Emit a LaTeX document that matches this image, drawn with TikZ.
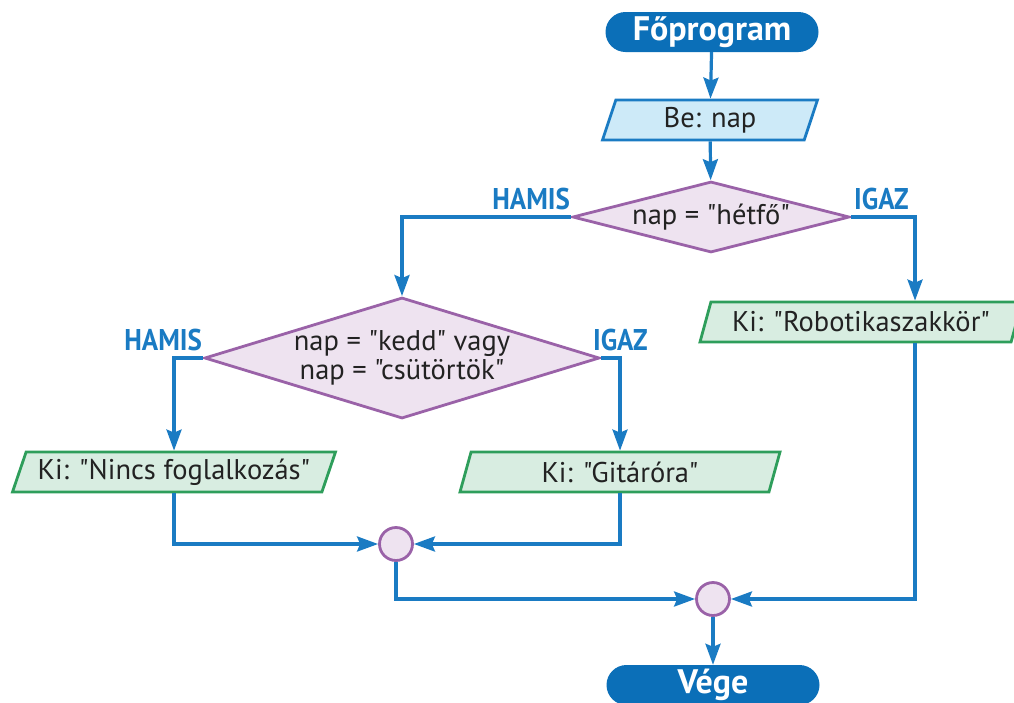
\documentclass[tikz,border=0pt]{standalone}
\usepackage{fontspec}
\setmainfont{PT Sans}[Ligatures=TeXOff]
\newfontfamily\branchfont[FakeStretch=0.9]{PT Sans}
\usetikzlibrary{shapes.geometric,arrows.meta,positioning}
\definecolor{flowblue}{HTML}{1A7BC3}
\definecolor{termblue}{HTML}{0B6FB8}
\definecolor{infill}{HTML}{CDEAF8}
\definecolor{decline}{HTML}{9A62A8}
\definecolor{decfill}{HTML}{EEE3F0}
\definecolor{outline}{HTML}{2E9E5B}
\definecolor{outfill}{HTML}{D8EDE1}
\definecolor{ink}{HTML}{222222}
\begin{document}
\begin{tikzpicture}[x=1pt,y=-1pt,
    terminal/.style={rectangle,rounded corners=20pt,fill=termblue,text=white,
      minimum width=213pt,minimum height=40pt,
      font=\fontsize{34}{36}\selectfont\bfseries},
    io/.style={trapezium,trapezium left angle=66,trapezium right angle=114,
      trapezium stretches body,line width=2.8pt,minimum height=40pt,
      inner xsep=0pt,inner ysep=2pt,text=ink,font=\fontsize{28.5}{30}\selectfont},
    inbox/.style={io,draw=flowblue,fill=infill},
    outbox/.style={io,draw=outline,fill=outfill},
    decision/.style={diamond,draw=decline,fill=decfill,line width=2.8pt,
      inner sep=0pt,text=ink,align=center,
      font=\fontsize{28.5}{29}\selectfont},
    joint/.style={circle,draw=decline,fill=decfill,line width=2.8pt,
      minimum size=33pt,inner sep=0pt},
    branch/.style={text=flowblue,inner sep=0pt,
      font=\fontsize{30}{32}\branchfont\bfseries},
    flow/.style={draw=flowblue,line width=3.2pt,
      -{Stealth[length=21pt,width=15pt,inset=3pt]}}]
  \useasboundingbox (0,0) rectangle (1014,702);

  % nodes
  \node[terminal] (start) at (712,32) {Főprogram};
  \node[inbox,minimum width=215pt] (read) at (710,120) {Be: nap};
  \node[decision,aspect=3.9,minimum width=277pt,minimum height=71pt] (monday) at (711,217) {nap = "hétfő"};
  \node[decision,aspect=3.26,minimum width=395pt,minimum height=121pt] (tuethu) at (402,358)
    {nap = "kedd" vagy\\nap = "csütörtök"};
  \node[outbox,minimum width=322pt] (robot) at (861,322) {Ki: "Robotikaszakkör"};
  \node[outbox,minimum width=323pt] (none) at (174,472) {Ki: "Nincs foglalkozás"};
  \node[outbox,minimum width=320pt] (guitar) at (620,472) {Ki: "Gitáróra"};
  \node[joint] (join1) at (396,544) {};
  \node[joint] (join2) at (713,599) {};
  \node[terminal] (stop) at (713,685) {Vége};

  % branch labels
  \node[branch,above left=7pt and 1pt of monday.west] {HAMIS};
  \node[branch,above right=7pt and 3pt of monday.east] {IGAZ};
  \node[branch,above left=7pt and 1pt of tuethu.west] {HAMIS};
  \node[branch,above right=7pt and -8pt of tuethu.east] {IGAZ};

  % connectors
  \draw[flow] (start) -- (read);
  \draw[flow] (read) -- (monday);
  \draw[flow] (monday.west) -| (tuethu.north);
  \draw[flow] (monday.east) -| ([xshift=54pt]robot.north);
  \draw[flow] (tuethu.west) -| (none.north);
  \draw[flow] (tuethu.east) -| (guitar.north);
  \draw[flow] (none.south) |- (join1);
  \draw[flow] (guitar.south) |- (join1);
  \draw[flow] (join1) |- (join2);
  \draw[flow] ([xshift=54pt]robot.south) |- (join2);
  \draw[flow] (join2) -- (stop);
\end{tikzpicture}
\end{document}
